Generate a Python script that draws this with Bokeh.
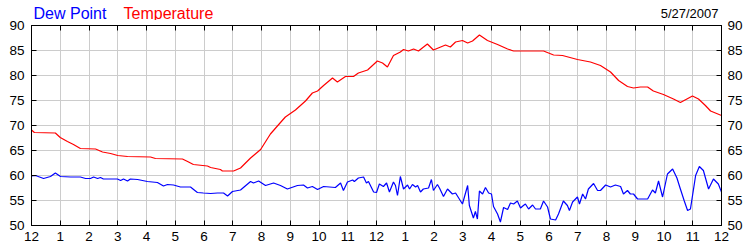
from bokeh.plotting import figure
from bokeh.models import Range1d, LinearAxis, FixedTicker
from bokeh.layouts import column
from bokeh.core.properties import value
from bokeh.embed import file_html
from bokeh.resources import INLINE

# ---- data (hours since midnight, degrees F) ----
temp_hours = [0.0, 0.1, 0.83, 1.0, 1.25, 1.46, 1.7, 2.23, 2.47, 2.75, 3.0, 3.34, 4.14, 4.31,
              5.25, 5.43, 5.63, 6.12, 6.23, 6.57, 6.64, 7.03, 7.27, 7.62, 7.97, 8.31, 8.66,
              8.83, 9.18, 9.53, 9.77, 9.95, 10.16, 10.47, 10.64, 10.92, 11.2, 11.37, 11.69,
              12.03, 12.21, 12.38, 12.59, 12.83, 12.94, 13.11, 13.29, 13.46, 13.77, 13.98,
              14.4, 14.57, 14.75, 14.99, 15.17, 15.34, 15.58, 15.86, 16.21, 16.56, 16.77,
              17.81, 18.16, 18.47, 18.99, 19.44, 19.79, 20.14, 20.42, 20.73, 20.94, 21.18,
              21.43, 21.63, 21.98, 22.33, 22.57, 22.99, 23.2, 23.44, 23.62, 24.0]
temp_values = [69.1, 68.6, 68.5, 67.6, 66.8, 66.2, 65.4, 65.3, 64.7, 64.4, 64.0, 63.8, 63.7, 63.4,
               63.3, 62.8, 62.2, 61.9, 61.6, 61.2, 60.9, 60.9, 61.5, 63.5, 65.2, 68.3, 70.6,
               71.7, 73.1, 74.9, 76.5, 76.9, 78.0, 79.5, 78.7, 79.8, 79.8, 80.5, 81.1,
               82.9, 82.5, 81.7, 84.0, 84.7, 85.2, 84.9, 85.3, 84.9, 86.3, 85.1,
               86.1, 85.7, 86.7, 87.0, 86.5, 86.9, 88.1, 87.0, 86.2, 85.3, 84.9,
               84.9, 84.1, 84.0, 83.2, 82.7, 82.0, 80.7, 79.0, 77.8, 77.5, 77.7,
               77.7, 76.9, 76.2, 75.3, 74.6, 75.9, 75.3, 74.0, 72.9, 72.0]

dew_hours = [0.0, 0.14, 0.42, 0.66, 0.83, 1.01, 1.36, 1.7, 1.88, 2.05, 2.16, 2.3, 2.4, 2.5,
             2.99, 3.1, 3.2, 3.34, 3.44, 3.69, 4.03, 4.38, 4.59, 4.73, 4.94, 5.18, 5.53,
             5.77, 5.98, 6.23, 6.47, 6.68, 6.82, 6.99, 7.27, 7.62, 7.72, 7.9, 8.14, 8.42,
             8.66, 8.9, 9.25, 9.46, 9.6, 9.77, 9.95, 10.16, 10.57, 10.75, 10.85, 10.99,
             11.17, 11.23, 11.37, 11.55, 11.65, 11.72, 11.9, 12.0, 12.1, 12.24, 12.35,
             12.45, 12.59, 12.66, 12.73, 12.83, 12.94, 13.08, 13.15, 13.25, 13.36, 13.43,
             13.53, 13.63, 13.81, 13.91, 13.98, 14.12, 14.19, 14.33, 14.47, 14.64, 14.75,
             14.99, 15.17, 15.23, 15.37, 15.44, 15.51, 15.58, 15.69, 15.79, 15.9, 16.0,
             16.07, 16.21, 16.31, 16.42, 16.56, 16.66, 16.77, 16.9, 17.01, 17.11, 17.18,
             17.29, 17.43, 17.53, 17.7, 17.81, 17.95, 18.05, 18.23, 18.33, 18.5, 18.64,
             18.71, 18.82, 18.99, 19.06, 19.17, 19.27, 19.37, 19.55, 19.69, 19.79, 19.97,
             20.14, 20.31, 20.49, 20.59, 20.73, 20.83, 20.94, 21.08, 21.43, 21.6, 21.7,
             21.81, 21.95, 22.12, 22.3, 22.45, 22.57, 22.7, 22.82, 22.92, 23.1, 23.23,
             23.37, 23.55, 23.72, 23.89, 24.0]
dew_values = [59.9, 60.0, 59.4, 59.8, 60.5, 59.8, 59.7, 59.7, 59.4, 59.4, 59.7, 59.4, 59.6, 59.3,
              59.3, 59.0, 59.3, 58.9, 59.3, 59.2, 58.8, 58.6, 57.9, 58.2, 58.1, 57.7, 57.7,
              56.6, 56.5, 56.4, 56.5, 56.5, 55.9, 56.8, 57.1, 58.8, 58.5, 58.9, 58.0, 58.5,
              58.0, 57.3, 58.0, 58.1, 57.5, 57.8, 57.2, 57.8, 57.6, 58.5, 57.0, 58.7,
              59.1, 58.8, 59.5, 59.7, 58.5, 58.8, 56.7, 56.6, 58.3, 57.8, 58.5,
              56.7, 58.7, 58.0, 56.0, 59.8, 57.3, 58.1, 57.3, 58.2, 57.7, 58.0,
              56.7, 57.3, 57.5, 59.2, 57.0, 58.2, 57.5, 55.8, 57.3, 56.3, 56.5,
              54.3, 58.0, 54.0, 51.5, 52.8, 51.3, 56.9, 56.3, 57.6, 56.5, 56.3,
              53.8, 52.3, 50.7, 53.6, 53.2, 54.5, 54.3, 54.9, 53.5, 54.0, 54.3,
              53.3, 54.1, 53.3, 53.3, 54.9, 53.7, 51.3, 51.1, 52.3, 54.9, 54.0,
              53.0, 54.7, 55.7, 54.3, 56.3, 55.3, 57.3, 58.4, 57.0, 57.0, 58.1,
              57.7, 58.1, 57.8, 56.3, 57.0, 56.3, 56.3, 55.3, 55.3, 57.1, 56.5,
              58.9, 55.7, 60.3, 61.3, 59.5, 57.3, 55.0, 53.0, 53.3, 60.0, 61.8,
              61.0, 57.3, 59.3, 58.3, 56.7]

hour_ticks = list(range(0, 25))
hour_labels = ["12", "1", "2", "3", "4", "5", "6", "7", "8", "9", "10", "11",
               "12", "1", "2", "3", "4", "5", "6", "7", "8", "9", "10", "11", "12"]
value_ticks = [50, 55, 60, 65, 70, 75, 80, 85, 90]

series_names = ["Dew Point", "Temperature"]
date_text = "5/27/2007"

FONT = "Liberation Sans"
BLUE = "#0000ff"
RED = "#ff0000"

# ---- header strip with the coloured series names and the date ----
# Its frame is aligned with the chart frame (31..721 px), so x is given in page pixels.
header = figure(width=750, height=20, output_backend="svg", toolbar_location=None,
                title=None, x_axis_type=None, y_axis_type=None,
                x_range=Range1d(31, 721), y_range=Range1d(20, 0),
                min_border=0)
header.grid.visible = False
header.outline_line_color = None
header.background_fill_color = "white"
header.border_fill_color = "white"
header.text(x=[33, 123], y=[13, 13], text=series_names, text_color=[BLUE, RED],
            text_font=value(FONT), text_font_size="16px", text_align="left",
            text_baseline="alphabetic")
header.text(x=[718], y=[13], text=[date_text], text_color="black",
            text_font=value(FONT), text_font_size="13px", text_align="right",
            text_baseline="alphabetic")

# ---- main chart ----
p = figure(width=750, height=230, output_backend="svg", toolbar_location=None,
           title=None, x_range=Range1d(0, 24), y_range=Range1d(50, 90),
           min_border_left=31, min_border_right=29, min_border_top=5, min_border_bottom=25)
p.background_fill_color = "white"
p.border_fill_color = "white"
p.outline_line_color = "black"
p.outline_line_width = 1

overrides = {t: l for t, l in zip(hour_ticks, hour_labels)}

def style_axis(ax):
    ax.axis_line_color = "black"
    ax.major_tick_line_color = "black"
    ax.major_tick_in = 5
    ax.major_tick_out = 0
    ax.minor_tick_line_color = None
    ax.major_label_text_font = FONT
    ax.major_label_text_font_size = "13.5px"
    ax.major_label_text_color = "black"

xa = p.xaxis[0]
xa.ticker = FixedTicker(ticks=hour_ticks)
xa.major_label_overrides = overrides
style_axis(xa)
xa.major_label_standoff = 6

ya = p.yaxis[0]
ya.ticker = FixedTicker(ticks=value_ticks)
style_axis(ya)
ya.major_label_standoff = 7

ra = LinearAxis(ticker=FixedTicker(ticks=value_ticks))
style_axis(ra)
ra.major_label_standoff = 6
p.add_layout(ra, "right")

ta = LinearAxis(ticker=FixedTicker(ticks=hour_ticks))
style_axis(ta)
ta.major_label_overrides = {t: "" for t in hour_ticks}
ta.major_label_standoff = 0
ta.major_label_text_font_size = "1px"
p.add_layout(ta, "above")

p.xgrid.ticker = FixedTicker(ticks=hour_ticks)
p.ygrid.ticker = FixedTicker(ticks=value_ticks)
p.grid.grid_line_color = "#cccccc"
p.grid.grid_line_width = 1

p.line(temp_hours, temp_values, line_color=RED, line_width=1.2)
p.line(dew_hours, dew_values, line_color=BLUE, line_width=1.2)

layout = column(header, p, spacing=0)
open("out.html", "w").write(file_html(layout, INLINE))
